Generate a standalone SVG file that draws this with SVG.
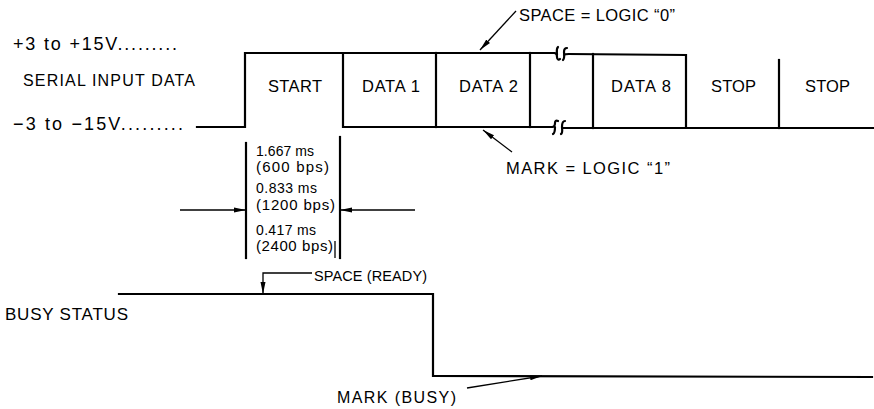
<svg xmlns="http://www.w3.org/2000/svg" width="874" height="409" viewBox="0 0 874 409">
<style>
.t{font-family:"Liberation Sans",Arial,sans-serif;fill:#000}
.s{font-size:16.5px}
.m{font-size:14px}
.p{font-size:15px}
.w{fill:none;stroke:#000;stroke-width:2.2;stroke-linecap:square;stroke-linejoin:miter}
.thin{fill:none;stroke:#000;stroke-width:1.3}
.brk{fill:none;stroke:#000;stroke-width:2.2;stroke-linecap:round}
</style>
<defs>
<marker id="ah" viewBox="0 0 12 6" refX="12" refY="3" markerWidth="12" markerHeight="6" markerUnits="userSpaceOnUse" orient="auto">
<path d="M0,0.5 L12,3 L0,5.5 Z" fill="#000"/>
</marker>
</defs>
<rect width="874" height="409" fill="#fff"/>

<g id="labels-left">
<text class="t" x="13" y="50" font-size="18" textLength="164" lengthAdjust="spacing">+3 to +15V.........</text>
<text class="t" x="23" y="86" font-size="16" textLength="172" lengthAdjust="spacing">SERIAL INPUT DATA</text>
<text class="t" x="13" y="130" font-size="18" textLength="170" lengthAdjust="spacing">−3 to −15V.........</text>
<text class="t" x="5" y="320" font-size="17" textLength="123" lengthAdjust="spacing">BUSY STATUS</text>
</g>

<g id="serial-signal">
<path class="w" d="M197,127 L245,127 L245,53 L554,53"/>
<path class="w" d="M569,54 L686,55 L686,128"/>
<path class="w" d="M343,53 L343,127 L552,127"/>
<path class="w" d="M567,128 L873,128"/>
<path class="w" d="M436,53 L436,127"/>
<path class="w" d="M530,53 L530,127"/>
<path class="w" d="M593,54 L593,128"/>
<path class="w" d="M779,60 L779,128"/>
<path class="brk" d="M554,53 C556,53 557,55 557,57 C557,60 559,60 560,59 M558,47 C556,49 557,52 557,55 M563,60 C565,58 564,54 564,52 C564,49 565,48 567,48 M564,55 C565,54 566,54 569,54"/>
<path class="brk" d="M552,127 C554,127 555,125 555,123 C555,121 556,120 558,121 M555,127 C555,130 555,133 553,134 M561,134 C563,133 562,129 562,127 C562,124 563,121 565,121 M562,128 C564,128 565,128 567,128"/>
</g>

<g id="bit-cells">
<text class="t s" x="268" y="92" textLength="54" lengthAdjust="spacing">START</text>
<text class="t s" x="362" y="92" textLength="58" lengthAdjust="spacing">DATA 1</text>
<text class="t s" x="459" y="92" textLength="59" lengthAdjust="spacing">DATA 2</text>
<text class="t s" x="611" y="92" textLength="60" lengthAdjust="spacing">DATA 8</text>
<text class="t s" x="711" y="92" textLength="45" lengthAdjust="spacing">STOP</text>
<text class="t s" x="805" y="92" textLength="45" lengthAdjust="spacing">STOP</text>
</g>

<g id="space-logic-label">
<text class="t s" x="519" y="21" textLength="156" lengthAdjust="spacing">SPACE = LOGIC “0”</text>
</g>
<g id="mark-logic-label">
<text class="t s" x="506" y="174" textLength="164" lengthAdjust="spacing">MARK = LOGIC “1”</text>
</g>

<g id="bit-time">
<path class="w" d="M246,143 L246,258"/>
<path class="w" d="M340,137 L340,258"/>
<path class="thin" d="M335,241 L335,258"/>
<text class="t m" x="256" y="156" textLength="58" lengthAdjust="spacing">1.667 ms</text>
<text class="t p" x="256" y="172" textLength="73" lengthAdjust="spacing">(600 bps)</text>
<text class="t m" x="256" y="193" textLength="61" lengthAdjust="spacing">0.833 ms</text>
<text class="t p" x="256" y="210" textLength="79" lengthAdjust="spacing">(1200 bps)</text>
<text class="t m" x="256" y="235" textLength="60" lengthAdjust="spacing">0.417 ms</text>
<text class="t p" x="256" y="251" textLength="77" lengthAdjust="spacing">(2400 bps)</text>
</g>

<g id="busy-signal">
<path class="w" d="M119,294 L433,294 L433,376 L872,377"/>
</g>

<g id="busy-labels">
<text class="t" x="314" y="281" font-size="14.5" textLength="113" lengthAdjust="spacing">SPACE (READY)</text>
<text class="t" x="337" y="403" font-size="16" textLength="119" lengthAdjust="spacing">MARK (BUSY)</text>
</g>

<g id="connectors">
<line class="thin" x1="516" y1="11" x2="480" y2="50" marker-end="url(#ah)"/>
<line class="thin" x1="512" y1="152" x2="483" y2="130" marker-end="url(#ah)"/>
<line class="thin" x1="180" y1="210" x2="246" y2="210" marker-end="url(#ah)"/>
<line class="thin" x1="415" y1="210" x2="340" y2="210" marker-end="url(#ah)"/>
<path class="thin" d="M312,273 L263,273 L263,294" marker-end="url(#ah)"/>
<line class="thin" x1="467" y1="388" x2="542" y2="376" marker-end="url(#ah)"/>
</g>
</svg>
